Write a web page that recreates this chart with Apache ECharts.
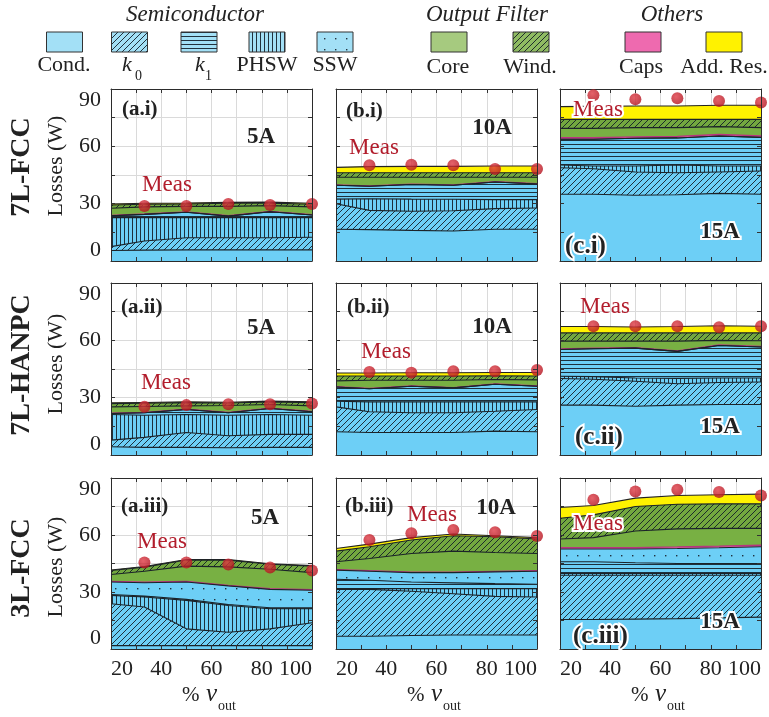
<!DOCTYPE html>
<html><head><meta charset="utf-8">
<script src="https://cdn.jsdelivr.net/npm/echarts@6/dist/echarts.min.js"></script>
<style>html,body{margin:0;padding:0;background:#fff}#c{width:769px;height:717px}</style>
</head><body><div id="c"></div>
<script>
// ---------- data ----------
const X_MODEL = [20, 33.3, 50, 66.7, 83.3, 100];
const X_MEAS = [33.3, 50, 66.7, 83.3, 100];
const X_TICKS = [20, 40, 60, 80, 100];
const Y_TICKS = [0, 30, 60, 90];
const ROW_NAMES = ['7L-FCC', '7L-HANPC', '3L-FCC'];
const PANEL_TAGS = ['(a.i)', '(b.i)', '(c.i)', '(a.ii)', '(b.ii)', '(c.ii)', '(a.iii)', '(b.iii)', '(c.iii)'];
const CURRENTS = ['5A', '10A', '15A'];
const LAYERS = ['Cond.', 'k0', 'PHSW', 'k1', 'SSW', 'Caps', 'Core', 'Wind.', 'Add. Res.'];

// 7L-FCC, 5A (a.i)
const ai_cond = [5.5, 5.7, 5.8, 5.8, 5.8, 5.8];
const ai_k0   = [2.0, 4.8, 6.4, 6.4, 6.4, 6.6];
const ai_phsw = [15.2, 12.2, 10.5, 10.5, 10.5, 10.3];
const ai_k1   = [1.0, 1.7, 2.8, 0.8, 3.1, 1.4];
const ai_ssw  = [0, 0, 0, 0, 0, 0];
const ai_caps = [0.2, 0.2, 0.2, 0.2, 0.2, 0.2];
const ai_core = [3.7, 3.7, 2.9, 4.9, 3.0, 4.0];
const ai_wind = [1.7, 1.4, 1.2, 1.6, 1.3, 1.4];
const ai_add  = [0.5, 0.5, 0.5, 0.5, 0.5, 0.5];
const ai_meas = [28.8, 28.8, 29.8, 29.3, 29.8];
// 7L-FCC, 10A (b.i)
const bi_cond = [16.6, 16.4, 16.0, 15.7, 16.6, 16.6];
const bi_k0   = [13.4, 10.1, 10.0, 10.6, 10.8, 11.1];
const bi_phsw = [2.4, 6.1, 6.4, 6.0, 4.7, 4.4];
const bi_k1   = [7.2, 6.5, 7.6, 7.3, 9.2, 8.2];
const bi_ssw  = [0, 0, 0, 0, 0, 0];
const bi_caps = [0.2, 0.2, 0.2, 0.2, 0.2, 0.2];
const bi_core = [4.0, 4.5, 3.6, 4.0, 2.3, 3.3];
const bi_wind = [2.4, 2.4, 2.4, 2.4, 2.4, 2.4];
const bi_add  = [2.8, 3.2, 3.3, 3.3, 3.5, 3.5];
const bi_meas = [50.1, 50.4, 50.1, 48.1, 48.1];
// 7L-FCC, 15A (c.i)
const ci_cond = [34.9, 34.9, 34.4, 34.7, 35.4, 34.9];
const ci_k0   = [13.9, 13.4, 12.2, 11.5, 11.2, 12.2];
const ci_phsw = [1.4, 1.4, 3.1, 4.0, 3.1, 2.6];
const ci_k1   = [13.5, 14.0, 14.5, 14.2, 15.7, 15.0];
const ci_ssw  = [0, 0, 0, 0, 0, 0];
const ci_caps = [0.8, 0.8, 0.8, 0.8, 0.8, 0.8];
const ci_core = [4.9, 4.9, 4.8, 4.6, 4.1, 4.3];
const ci_wind = [4.7, 4.7, 4.3, 4.3, 3.8, 4.3];
const ci_add  = [6.7, 6.8, 7.0, 7.0, 7.4, 7.4];
const ci_meas = [86.7, 84.6, 85.1, 83.7, 82.9];
// 7L-HANPC, 5A (a.ii)
const aii_cond = [4.3, 4.0, 4.0, 3.8, 4.0, 4.0];
const aii_k0   = [3.5, 5.2, 7.8, 6.3, 6.8, 6.8];
const aii_phsw = [13.4, 11.6, 9.4, 10.7, 10.4, 10.0];
const aii_k1   = [0.5, 1.3, 2.6, 1.3, 3.1, 1.8];
const aii_ssw  = [0, 0, 0, 0, 0, 0];
const aii_caps = [0.2, 0.2, 0.2, 0.2, 0.2, 0.2];
const aii_core = [3.3, 3.1, 1.7, 3.6, 1.9, 2.9];
const aii_wind = [1.7, 1.7, 1.7, 1.3, 1.4, 1.7];
const aii_add  = [0.4, 0.4, 0.4, 0.4, 0.4, 0.4];
const aii_meas = [25.2, 26.1, 26.6, 26.6, 26.9];
// 7L-HANPC, 10A (b.ii)
const bii_cond = [12.2, 11.8, 11.8, 11.8, 12.5, 12.2];
const bii_k0   = [13.0, 10.8, 10.3, 10.3, 10.4, 11.6];
const bii_phsw = [2.9, 5.2, 5.7, 5.7, 4.9, 4.0];
const bii_k1   = [7.5, 6.9, 8.2, 7.3, 9.2, 8.2];
const bii_ssw  = [0, 0, 0, 0, 0, 0];
const bii_caps = [0.2, 0.2, 0.2, 0.2, 0.2, 0.2];
const bii_core = [3.0, 4.2, 2.9, 3.8, 2.3, 3.1];
const bii_wind = [2.5, 2.2, 2.2, 2.2, 2.0, 2.0];
const bii_add  = [1.6, 1.6, 1.7, 1.7, 1.7, 1.9];
const bii_meas = [43.4, 43.1, 43.8, 43.8, 44.5];
// 7L-HANPC, 15A (c.ii)
const cii_cond = [26.1, 26.1, 25.5, 26.1, 26.4, 26.4];
const cii_k0   = [13.9, 13.5, 13.1, 11.2, 11.5, 11.8];
const cii_phsw = [1.2, 1.4, 1.7, 2.8, 2.4, 2.1];
const cii_k1   = [14.0, 14.6, 15.6, 14.1, 17.0, 16.2];
const cii_ssw  = [0, 0, 0, 0, 0, 0];
const cii_caps = [0.3, 0.3, 0.3, 0.3, 0.3, 0.3];
const cii_core = [4.1, 3.7, 3.4, 5.1, 2.4, 3.0];
const cii_wind = [4.3, 4.3, 4.3, 4.3, 3.9, 4.1];
const cii_add  = [3.3, 3.3, 3.1, 3.3, 3.7, 3.5];
const cii_meas = [67.4, 67.4, 67.4, 66.9, 67.4];
// 3L-FCC, 5A (a.iii)
const aiii_cond = [1.8, 1.8, 1.8, 1.8, 1.8, 1.8];
const aiii_k0   = [22.0, 20.3, 8.8, 7.0, 8.8, 12.0];
const aiii_phsw = [4.4, 5.3, 15.0, 14.1, 10.6, 7.4];
const aiii_k1   = [0.5, 0.5, 0.5, 0.5, 0.5, 0.5];
const aiii_ssw  = [6.6, 7.0, 9.2, 9.8, 9.7, 9.2];
const aiii_caps = [0.3, 0.3, 0.3, 0.3, 0.3, 0.3];
const aiii_core = [3.6, 5.7, 8.0, 9.7, 10.3, 9.0];
const aiii_wind = [2.1, 2.2, 3.2, 3.6, 2.6, 3.4];
const aiii_add  = [0.3, 0.3, 0.3, 0.3, 0.3, 0.3];
const aiii_meas = [45.5, 45.5, 44.5, 42.9, 41.3];
// 3L-FCC, 10A (b.iii)
const biii_cond = [6.7, 6.7, 7.1, 7.4, 7.4, 7.4];
const biii_k0   = [24.7, 24.7, 23.3, 21.7, 20.3, 20.0];
const biii_phsw = [0.4, 0.4, 1.4, 2.7, 4.1, 4.4];
const biii_k1   = [4.9, 4.4, 3.5, 3.0, 2.6, 2.3];
const biii_ssw  = [4.8, 4.7, 4.9, 5.4, 6.2, 6.8];
const biii_caps = [0.3, 0.3, 0.3, 0.3, 0.3, 0.3];
const biii_core = [4.1, 6.4, 9.8, 11.0, 9.9, 9.1];
const biii_wind = [5.6, 6.2, 7.1, 8.1, 8.3, 7.6];
const biii_add  = [1.4, 1.4, 1.2, 0.9, 0.5, 0.7];
const biii_meas = [57.4, 60.9, 62.6, 61.4, 59.5];
// 3L-FCC, 15A (c.iii)
const ciii_cond = [15.5, 15.5, 15.7, 16.0, 16.4, 16.8];
const ciii_k0   = [23.3, 23.3, 23.1, 22.8, 22.4, 22.0];
const ciii_phsw = [0.9, 0.9, 0.9, 0.9, 0.9, 0.9];
const ciii_k1   = [6.2, 6.2, 5.7, 5.3, 5.3, 5.3];
const ciii_ssw  = [6.7, 6.7, 7.2, 7.9, 8.3, 8.8];
const ciii_caps = [0.8, 0.8, 0.8, 0.8, 0.8, 0.8];
const ciii_core = [4.5, 5.2, 8.7, 9.5, 9.4, 8.9];
const ciii_wind = [10.9, 12.0, 12.9, 13.0, 12.9, 12.9];
const ciii_add  = [5.7, 4.9, 4.4, 4.6, 4.8, 5.1];
const ciii_meas = [78.5, 82.9, 83.8, 82.6, 80.8];

const PANELS = [
  [ai_cond, ai_k0, ai_phsw, ai_k1, ai_ssw, ai_caps, ai_core, ai_wind, ai_add],
  [bi_cond, bi_k0, bi_phsw, bi_k1, bi_ssw, bi_caps, bi_core, bi_wind, bi_add],
  [ci_cond, ci_k0, ci_phsw, ci_k1, ci_ssw, ci_caps, ci_core, ci_wind, ci_add],
  [aii_cond, aii_k0, aii_phsw, aii_k1, aii_ssw, aii_caps, aii_core, aii_wind, aii_add],
  [bii_cond, bii_k0, bii_phsw, bii_k1, bii_ssw, bii_caps, bii_core, bii_wind, bii_add],
  [cii_cond, cii_k0, cii_phsw, cii_k1, cii_ssw, cii_caps, cii_core, cii_wind, cii_add],
  [aiii_cond, aiii_k0, aiii_phsw, aiii_k1, aiii_ssw, aiii_caps, aiii_core, aiii_wind, aiii_add],
  [biii_cond, biii_k0, biii_phsw, biii_k1, biii_ssw, biii_caps, biii_core, biii_wind, biii_add],
  [ciii_cond, ciii_k0, ciii_phsw, ciii_k1, ciii_ssw, ciii_caps, ciii_core, ciii_wind, ciii_add]
];
const MEAS = [ai_meas, bi_meas, ci_meas, aii_meas, bii_meas, cii_meas, aiii_meas, biii_meas, ciii_meas];

// ---------- styling ----------
const FONT = '"Liberation Serif", "Times New Roman", serif';
const GRID_LEFT = [111, 336, 560];
const GRID_TOP = [89, 283, 478];
const GRID_H = [172, 172, 171];
const GRID_W = 201;
const BLUE = '#6dcff6', BLUE_L = '#a3e0f6';
const GREEN = '#78b043', GREEN_L = '#a6ca7f';
const PINK = '#ee6aaf', YELLOW = '#fff200';
const INK = 'rgba(20,30,40,0.9)';

function tile(w, h, bg, fn) {
  const c = document.createElement('canvas');
  c.width = w; c.height = h;
  const g = c.getContext('2d');
  g.fillStyle = bg; g.fillRect(0, 0, w, h);
  g.strokeStyle = INK; g.fillStyle = INK; g.lineWidth = 1;
  if (fn) fn(g, w, h);
  return { image: c, repeat: 'repeat' };
}
const diag = (g, w, h) => { g.beginPath(); g.moveTo(0, h); g.lineTo(w, 0); g.moveTo(-1, 1); g.lineTo(1, -1); g.moveTo(w - 1, h + 1); g.lineTo(w + 1, h - 1); g.stroke(); };
const horiz = (g, w) => { g.fillRect(0, 0, w, 1); };
const vert = (g, w, h) => { g.fillRect(0, 0, 1, h); };
const dots = (g) => { g.fillRect(5, 5, 1.4, 1.4); };

function fills(blue, green, green2) {
  return [
    blue,
    tile(6, 6, blue, diag),
    tile(4, 4, blue, vert),
    tile(4, 4, blue, horiz),
    tile(11, 11, blue, dots),
    PINK,
    green,
    tile(6, 6, green2, diag),
    YELLOW
  ];
}
const FILLS = fills(BLUE, GREEN, '#73a83f');
const LFILLS = fills(BLUE_L, GREEN_L, '#8fbb62');
const LINE_COLORS = ['#1b2329', '#1b2329', '#1b2329', '#1b2329', '#1b2329', '#b8347f', '#1b2329', '#1b2329', '#222'];

const grids = [], xAxes = [], yAxes = [], series = [], graphics = [];
const tickStyle = { show: true, inside: true, length: 4, lineStyle: { color: '#333', width: 1 } };
const lineStyleAx = { show: true, onZero: false, lineStyle: { color: '#2b2b2b', width: 1 } };

for (let p = 0; p < 9; p++) {
  const r = Math.floor(p / 3), c = p % 3;
  grids.push({ left: GRID_LEFT[c], top: GRID_TOP[r], width: GRID_W, height: GRID_H[r] });
  xAxes.push({
    gridIndex: p, type: 'value', min: 20, max: 100, interval: 10, position: 'bottom', z: 10,
    axisLine: lineStyleAx, axisTick: tickStyle, splitLine: { show: false },
    axisLabel: {
      show: r === 2, margin: 9, fontFamily: FONT, fontSize: 22, color: '#222',
      alignMinLabel: 'left', alignMaxLabel: 'right',
      formatter: v => X_TICKS.indexOf(Math.round(v)) >= 0 ? String(Math.round(v)) : ''
    }
  });
  xAxes.push({
    gridIndex: p, type: 'value', min: 20, max: 100, interval: 10, position: 'top', z: 0,
    axisLine: lineStyleAx, axisTick: tickStyle, axisLabel: { show: false },
    splitLine: { show: true, lineStyle: { color: '#dadada', width: 1 } }
  });
  yAxes.push({
    gridIndex: p, type: 'value', min: 0, max: 90, interval: 15, position: 'left', z: 10,
    axisLine: lineStyleAx, axisTick: tickStyle, splitLine: { show: false },
    axisLabel: {
      show: c === 0, margin: 10, fontFamily: FONT, fontSize: 22, color: '#222',
      verticalAlignMinLabel: 'bottom', verticalAlignMaxLabel: 'top',
      formatter: v => Y_TICKS.indexOf(v) >= 0 ? String(v) : ''
    }
  });
  yAxes.push({
    gridIndex: p, type: 'value', min: 0, max: 90, interval: 15, position: 'right', z: 10,
    axisLine: lineStyleAx, axisTick: tickStyle, splitLine: { show: false }, axisLabel: { show: false }
  });
  yAxes.push({
    gridIndex: p, type: 'value', min: 0, max: 90, interval: 15, position: 'left', z: 0,
    axisLine: { show: false }, axisTick: { show: false }, axisLabel: { show: false },
    splitLine: { show: true, lineStyle: { color: '#dadada', width: 1 } }
  });

  // cumulative tops of each stacked layer
  const layers = PANELS[p];
  const tops = [];
  let run = X_MODEL.map(() => 0);
  layers.forEach(vals => { run = run.map((s, i) => s + vals[i]); tops.push(run.slice()); });
  // draw from the top layer down so each lower layer covers the one above it
  for (let li = layers.length - 1; li >= 0; li--) {
    series.push({
      type: 'line', name: LAYERS[li], xAxisIndex: 2 * p, yAxisIndex: 3 * p,
      data: X_MODEL.map((x, i) => [x, +tops[li][i].toFixed(3)]),
      symbol: 'none', silent: true, z: 2,
      lineStyle: { color: LINE_COLORS[li], width: li === 5 ? 1.3 : 1.1 },
      areaStyle: { color: FILLS[li], opacity: 1, origin: 'start' }
    });
  }
  series.push({
    type: 'scatter', name: 'Meas', xAxisIndex: 2 * p, yAxisIndex: 3 * p, clip: false, z: 6,
    data: X_MEAS.map((x, i) => [x, MEAS[p][i]]), symbolSize: 12,
    itemStyle: { color: { type: 'radial', x: 0.4, y: 0.35, r: 0.7,
      colorStops: [{ offset: 0, color: '#df3a44' }, { offset: 1, color: '#b0101c' }] } }
  });
}

// ---------- text ----------
function txt(text, x, y, o) {
  o = o || {};
  const el = {
    type: 'text', x: x, y: y, z: 100, rotation: o.rot || 0,
    style: {
      text: text, fill: o.fill || '#222', align: o.align || 'center', verticalAlign: 'middle',
      fontFamily: FONT, fontSize: o.size || 22, fontWeight: o.bold ? 'bold' : 'normal',
      fontStyle: o.italic ? 'italic' : 'normal'
    }
  };
  if (o.halo) { el.style.stroke = '#fff'; el.style.lineWidth = 4; el.style.shadowColor = '#fff'; el.style.shadowBlur = 8; }
  graphics.push(el);
}
const ROW_CY = [167, 365, 568];
ROW_NAMES.forEach((n, r) => {
  txt(n, 22, ROW_CY[r], { rot: Math.PI / 2, bold: true, size: 28 });
  txt('Losses (W)', 56, ROW_CY[r] - 1, { rot: Math.PI / 2, size: 22 });
});
const TAG_POS = [[122, 110], [346, 112], [565, 247], [121, 308], [347, 308], [575, 438], [121, 507], [345, 507], [573, 637]];
const CUR_POS = [[261, 137], [492, 128], [720, 232], [261, 328], [492, 327], [720, 427], [265, 518], [496, 508], [720, 622]];
const MEAS_POS = [[167, 185], [374, 148], [598, 110], [166, 383], [386, 352], [605, 307], [162, 542], [432, 515], [598, 524]];
for (let p = 0; p < 9; p++) {
  const c = p % 3;
  txt(PANEL_TAGS[p], TAG_POS[p][0], TAG_POS[p][1], { align: 'left', bold: true, size: c === 2 ? 25 : 21, halo: c === 2 });
  txt(CURRENTS[c], CUR_POS[p][0], CUR_POS[p][1], { bold: true, size: 23, halo: c === 2 });
  txt('Meas', MEAS_POS[p][0], MEAS_POS[p][1], { fill: '#b21d2c', size: 23, halo: p === 2 || p === 8 });
}
GRID_LEFT.forEach(gl => {
  txt('%', gl + 71, 695, { align: 'left', size: 21 });
  txt('v', gl + 95, 694, { align: 'left', size: 25, italic: true });
  txt('out', gl + 107, 706, { align: 'left', size: 14 });
});
const LEG_CX = [64.5, 129.5, 199, 267, 335, 449, 531, 643, 724];
const LEG_FILL_IDX = [0, 1, 3, 2, 4, 6, 7, 5, 8];
LEG_CX.forEach((cx, i) => {
  graphics.push({ type: 'rect', z: 100, shape: { x: cx - 18, y: 32, width: 36, height: 20 },
    style: { fill: LFILLS[LEG_FILL_IDX[i]], stroke: '#333', lineWidth: 1 } });
});
txt('Cond.', 64, 65);
txt('k', 127, 65, { italic: true });
txt('0', 138.5, 76, { size: 14 });
txt('k', 200, 65, { italic: true });
txt('1', 208.5, 76, { size: 14 });
txt('PHSW', 267, 65);
txt('SSW', 335, 65);
txt('Core', 448, 67);
txt('Wind.', 530, 67);
txt('Caps', 641, 67);
txt('Add. Res.', 724, 67);
txt('Semiconductor', 195, 15, { italic: true, size: 23 });
txt('Output Filter', 487, 15, { italic: true, size: 23 });
txt('Others', 672, 15, { italic: true, size: 23 });

const chart = echarts.init(document.getElementById('c'));
chart.setOption({
  animation: false,
  backgroundColor: '#fff',
  grid: grids, xAxis: xAxes, yAxis: yAxes, series: series,
  graphic: { elements: graphics }
});
</script></body></html>
